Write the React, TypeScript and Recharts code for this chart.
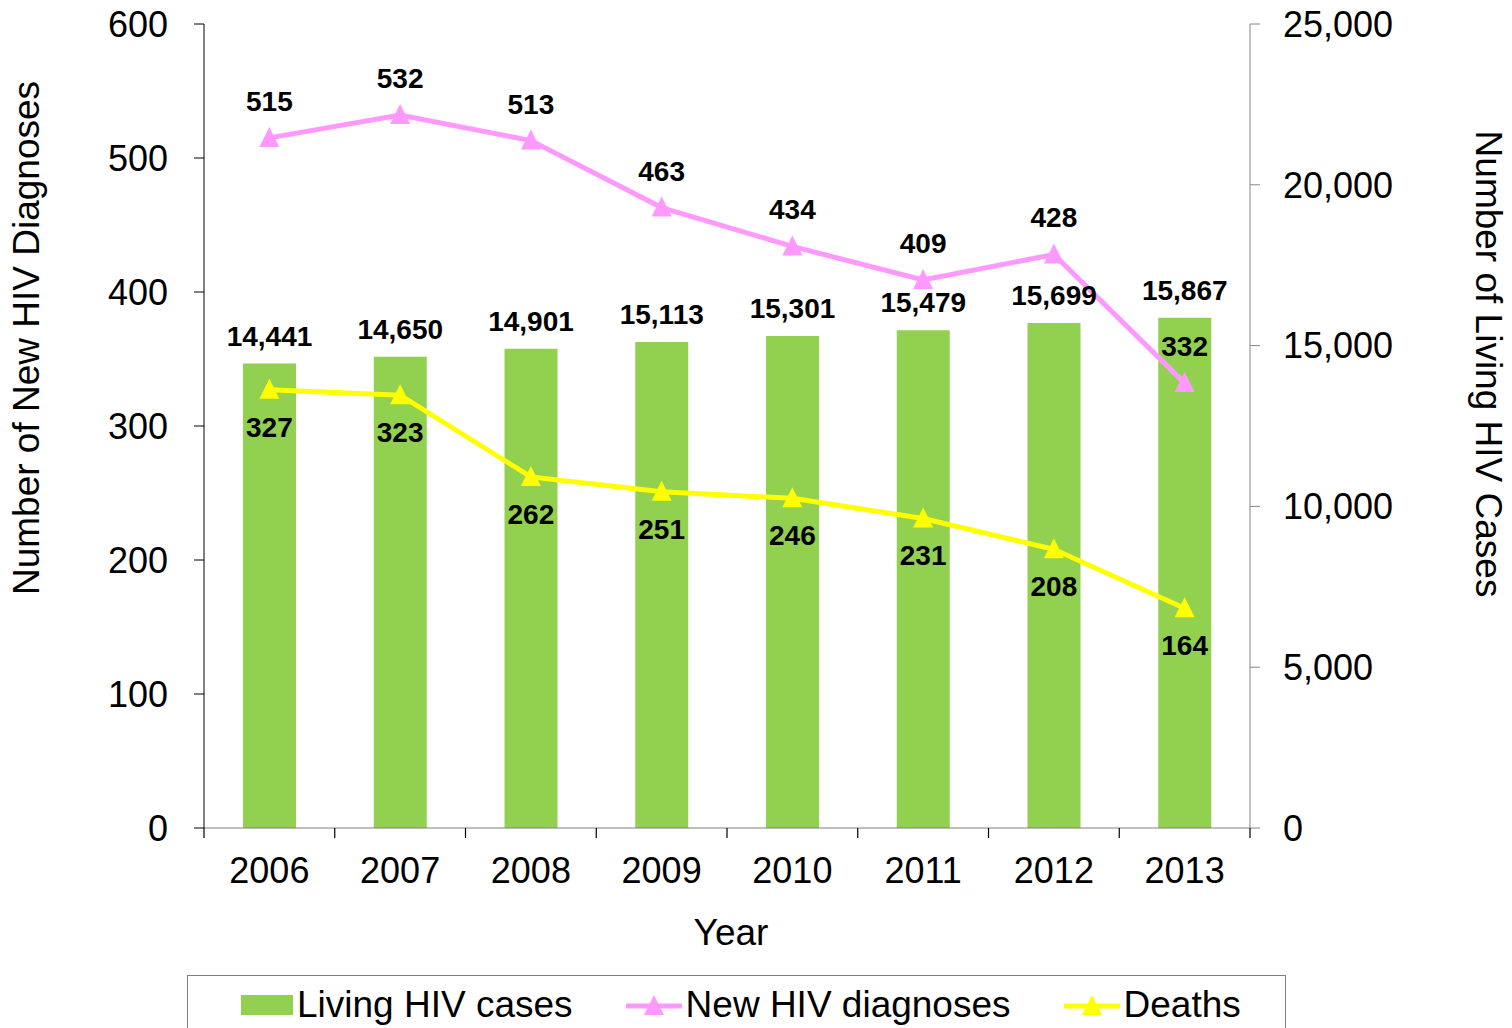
import React from "react";
import {
  ComposedChart,
  Bar,
  Line,
  XAxis,
  YAxis,
  LabelList,
  Legend,
  Label,
} from "recharts";

const FONT = "'Liberation Sans', Arial, sans-serif";

const years = ["2006", "2007", "2008", "2009", "2010", "2011", "2012", "2013"];
const livingCases = [14441, 14650, 14901, 15113, 15301, 15479, 15699, 15867];
const newDiagnoses = [515, 532, 513, 463, 434, 409, 428, 332];
const deaths = [327, 323, 262, 251, 246, 231, 208, 164];
const leftTicks = [0, 100, 200, 300, 400, 500, 600];
const rightTicks = [0, 5000, 10000, 15000, 20000, 25000];

const GREEN = "#92D050";
const PINK = "#FF99FF";
const YELLOW = "#FFFF00";

const data = years.map((year, i) => ({
  year,
  living: livingCases[i],
  newDx: newDiagnoses[i],
  deaths: deaths[i],
}));

const fmt = (v: any) => Number(v).toLocaleString("en-US");

const Triangle = (color: string) => (props: any) => {
  const { cx, cy } = props;
  if (cx == null || cy == null) return <g />;
  return (
    <polygon
      points={`${cx},${cy - 11} ${cx + 10},${cy + 9} ${cx - 10},${cy + 9}`}
      fill={color}
    />
  );
};

const YearTick = (props: any) => {
  const { x, y, payload, index, visibleTicksCount } = props;
  const half = payload.offset ?? 65;
  const last = index === visibleTicksCount - 1;
  return (
    <g>
      <line x1={x - half} x2={x - half} y1={y} y2={y + 10} stroke="#000" strokeWidth={1.2} />
      {last && (
        <line x1={x + half} x2={x + half} y1={y} y2={y + 10} stroke="#000" strokeWidth={1.2} />
      )}
      <text x={x} y={y + 55} textAnchor="middle" fontSize={36} fill="#000" fontFamily={FONT}>
        {payload.value}
      </text>
    </g>
  );
};

const legendItems = [
  { name: "Living HIV cases", color: GREEN, kind: "bar" },
  { name: "New HIV diagnoses", color: PINK, kind: "line" },
  { name: "Deaths", color: YELLOW, kind: "line" },
];

const ChartLegend = () => (
  <div
    style={{
      width: 1099,
      height: 60,
      border: "1.5px solid #808080",
      boxSizing: "border-box",
      background: "#fff",
      display: "flex",
      alignItems: "center",
      paddingLeft: 53,
      fontFamily: FONT,
      fontSize: 37,
      color: "#000",
    }}
  >
    {legendItems.map((item) => (
      <div key={item.name} style={{ display: "flex", alignItems: "center", marginRight: 53 }}>
        {item.kind === "bar" ? (
          <svg width={52} height={20}>
            <rect width={52} height={20} fill={item.color} />
          </svg>
        ) : (
          <svg width={56} height={22}>
            <line x1={0} x2={56} y1={12} y2={12} stroke={item.color} strokeWidth={5} />
            <polygon points="28,1 38,21 18,21" fill={item.color} />
          </svg>
        )}
        <span style={{ marginLeft: 4, whiteSpace: "nowrap" }}>{item.name}</span>
      </div>
    ))}
  </div>
);

const AxisTitle = ({ text, dx, dy, angle }: { text: string; dx: number; dy: number; angle: number }) =>
  (props: any) => {
    const vb = props.viewBox || {};
    const x = vb.x + dx;
    const y = vb.y + vb.height / 2 + dy;
    return (
      <text
        x={x}
        y={y}
        transform={angle ? `rotate(${angle} ${x} ${y})` : undefined}
        textAnchor="middle"
        fontSize={37}
        fontFamily={FONT}
        fill="#000"
      >
        {text}
      </text>
    );
  };

export default function App() {
  return (
    <div
      style={{
        position: "absolute",
        left: 0,
        top: 0,
        width: 1512,
        height: 1028,
        overflow: "hidden",
        background: "#fff",
        fontFamily: FONT,
      }}
    >
      <ComposedChart
        width={1512}
        height={1028}
        data={data}
        margin={{ top: 24, right: 0, bottom: 70, left: 0 }}
        barCategoryGap={0}
      >
        <XAxis
          dataKey="year"
          height={130}
          stroke="#7f7f7f"
          tickLine={false}
          tickSize={0}
          tickMargin={0}
          tick={<YearTick />}
          interval={0}
        >
          <Label content={AxisTitle({ text: "Year", dx: 527, dy: 52, angle: 0 })} />
        </XAxis>
        <YAxis
          yAxisId="left"
          orientation="left"
          width={204}
          domain={[0, 600]}
          ticks={leftTicks}
          stroke="#000"
          tickSize={10}
          tickMargin={26}
          tick={{ fontSize: 36, fill: "#000", fontFamily: FONT }}
        >
          <Label
            content={AxisTitle({ text: "Number of New HIV Diagnoses", dx: 39, dy: -88, angle: -90 })}
          />
        </YAxis>
        <YAxis
          yAxisId="right"
          orientation="right"
          width={262}
          domain={[0, 25000]}
          ticks={rightTicks}
          stroke="#868686"
          tickSize={10}
          tickMargin={23}
          tickFormatter={fmt}
          tick={{ fontSize: 36, fill: "#000", fontFamily: FONT }}
        >
          <Label
            content={AxisTitle({ text: "Number of Living HIV Cases", dx: 226, dy: -62, angle: 90 })}
          />
        </YAxis>
        <Legend
          layout="horizontal"
          verticalAlign="middle"
          align="center"
          wrapperStyle={{ left: 187, top: 975, width: 1099, height: 60 }}
          content={<ChartLegend />}
        />
        <Bar
          yAxisId="right"
          dataKey="living"
          name="Living HIV cases"
          fill={GREEN}
          barSize={53}
          isAnimationActive={false}
        >
          <LabelList
            dataKey="living"
            position="top"
            offset={18}
            formatter={fmt}
            style={{ fontSize: 28, fontWeight: "bold", fill: "#000", fontFamily: FONT }}
          />
        </Bar>
        <Line
          yAxisId="left"
          dataKey="newDx"
          name="New HIV diagnoses"
          type="linear"
          stroke={PINK}
          strokeWidth={5}
          dot={Triangle(PINK)}
          activeDot={false}
          isAnimationActive={false}
        >
          <LabelList
            dataKey="newDx"
            position="top"
            offset={27}
            style={{ fontSize: 28, fontWeight: "bold", fill: "#000", fontFamily: FONT }}
          />
        </Line>
        <Line
          yAxisId="left"
          dataKey="deaths"
          name="Deaths"
          type="linear"
          stroke={YELLOW}
          strokeWidth={5}
          dot={Triangle(YELLOW)}
          activeDot={false}
          isAnimationActive={false}
        >
          <LabelList
            dataKey="deaths"
            position="bottom"
            offset={27}
            style={{ fontSize: 28, fontWeight: "bold", fill: "#000", fontFamily: FONT }}
          />
        </Line>
      </ComposedChart>
    </div>
  );
}
